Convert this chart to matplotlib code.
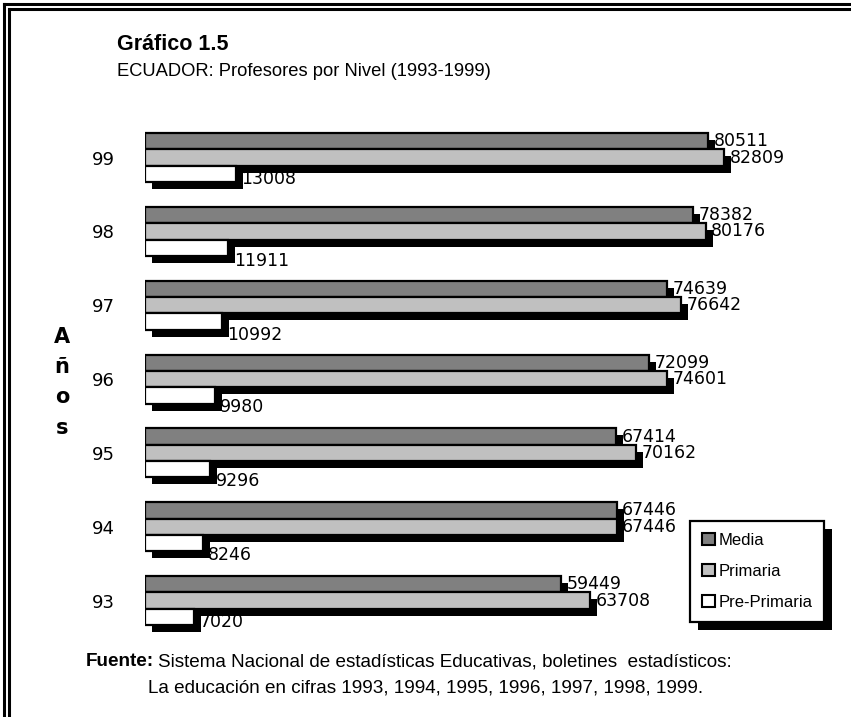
import matplotlib
matplotlib.use("Agg")
import matplotlib.pyplot as plt
from matplotlib.patches import Rectangle, Patch
from matplotlib.lines import Line2D
import matplotlib.transforms as mtransforms
import numpy as np

# ---- data ----
years = ["93", "94", "95", "96", "97", "98", "99"]
media = [59449, 67446, 67414, 72099, 74639, 78382, 80511]
primaria = [63708, 67446, 70162, 74601, 76642, 80176, 82809]
pre_primaria = [7020, 8246, 9296, 9980, 10992, 11911, 13008]
series_names = ["Media", "Primaria", "Pre-Primaria"]

title = "Gráfico 1.5"
subtitle = "ECUADOR: Profesores por Nivel (1993-1999)"
footer_bold = "Fuente:"
footer_1 = "Sistema Nacional de estadísticas Educativas, boletines  estadísticos:"
footer_2 = "La educación en cifras 1993, 1994, 1995, 1996, 1997, 1998, 1999."
axis_label = "Años"

# ---- style ----
W, H = 851, 717
DPI = 100
colors = ["#808080", "#c0c0c0", "#ffffff"]
pre_label_dy = [-5, -12, -12, -12, -13, -13, -5]  # pixel offsets for Pre-Primaria labels

fig = plt.figure(figsize=(W / DPI, H / DPI), dpi=DPI)
fig.patch.set_facecolor("white")

def fx(px):
    return px / W

def fy(py):
    return 1 - py / H

# axes placement
x0_px, px_per_unit = 145, (724 - 145) / 82809
xmax = 100000
ax_w_px = xmax * px_per_unit
grp_px = 73.83
c0_px = 600.5
ylo, yhi = -0.7, 6.7
top_px = c0_px - grp_px * yhi
bot_px = c0_px - grp_px * ylo
ax = fig.add_axes([fx(x0_px), fy(bot_px), ax_w_px / W, (bot_px - top_px) / H])
ax.set_xlim(0, xmax)
ax.set_ylim(ylo, yhi)
for s in ax.spines.values():
    s.set_visible(False)
ax.set_xticks([])

y = np.arange(len(years))
bh = 16.33 / grp_px
offsets = [bh, 0, -bh]
series = [media, primaria, pre_primaria]

shadow_tr = mtransforms.offset_copy(ax.transData, fig=fig, x=7, y=-7, units="dots")
for vals, off in zip(series, offsets):
    ax.barh(y + off, vals, height=bh, color="black", edgecolor="black",
            linewidth=0, transform=shadow_tr, zorder=1)
for vals, off, col, name in zip(series, offsets, colors, series_names):
    ax.barh(y + off, vals, height=bh, color=col, edgecolor="black",
            linewidth=1.6, zorder=2, label=name)

lab_font = dict(family="DejaVu Sans", size=12.5, color="black")
for k, (vals, off) in enumerate(zip(series, offsets)):
    for i, v in enumerate(vals):
        dy = pre_label_dy[i] if k == 2 else 0
        ax.annotate(f"{v}", xy=(v, y[i] + off), xytext=(4.0, dy * 0.72),
                    textcoords="offset points", ha="left", va="center",
                    zorder=3, **lab_font)

ax.set_yticks(y)
ax.set_yticklabels(years, fontsize=13, family="DejaVu Sans")
ax.tick_params(axis="y", length=0, pad=22)

# Años vertical
for ch, py in zip(axis_label, [337, 367, 397, 428]):
    fig.text(fx(62), fy(py), ch, ha="center", va="center",
             fontsize=15, fontweight="bold", family="DejaVu Sans")

# titles
fig.text(fx(117), fy(45), title, ha="left", va="center", fontsize=15.5,
         fontweight="bold", family="Liberation Sans")
fig.text(fx(117), fy(72), subtitle, ha="left", va="center", fontsize=13.2,
         family="Liberation Sans")

# footer
fsz = 13.6
tb = fig.text(fx(86), fy(662), footer_bold, ha="left", va="center", fontsize=fsz,
              fontweight="bold", family="Liberation Sans")
fig.canvas.draw()
tbb = tb.get_window_extent()
fig.text((tbb.x1 + 4) / W, fy(662), footer_1, ha="left", va="center", fontsize=fsz,
         family="Liberation Sans")
fig.text(fx(148), fy(688), footer_2, ha="left", va="center", fontsize=fsz,
         family="Liberation Sans")

# legend
handles = [Patch(facecolor=c, edgecolor="black", linewidth=1.5) for c in colors]
leg = fig.legend(handles, series_names, loc="upper left",
                 bbox_to_anchor=(fx(690), fy(521)), frameon=True, fancybox=False,
                 framealpha=1, facecolor="white",
                 prop=dict(family="Liberation Sans", size=12),
                 handlelength=0.8, handleheight=0.8, handletextpad=0.2,
                 labelspacing=0.95, borderpad=0.7, borderaxespad=0)
leg.get_frame().set_edgecolor("black")
leg.get_frame().set_linewidth(1.6)
leg.set_zorder(5)

fig.canvas.draw()
bb = leg.get_window_extent()
sh = Rectangle(((bb.x0 + 8) / W, (bb.y0 - 8) / H), bb.width / W, bb.height / H,
               transform=fig.transFigure, facecolor="black", edgecolor="none", zorder=4)
fig.add_artist(sh)

# double frame
for off in (4, 9):
    fig.add_artist(Line2D([fx(off), fx(off)], [fy(off), 0], transform=fig.transFigure,
                          color="black", linewidth=2.2))
    fig.add_artist(Line2D([fx(off), 1], [fy(off), fy(off)], transform=fig.transFigure,
                          color="black", linewidth=2.2))

fig.savefig("out.png", dpi=DPI)
